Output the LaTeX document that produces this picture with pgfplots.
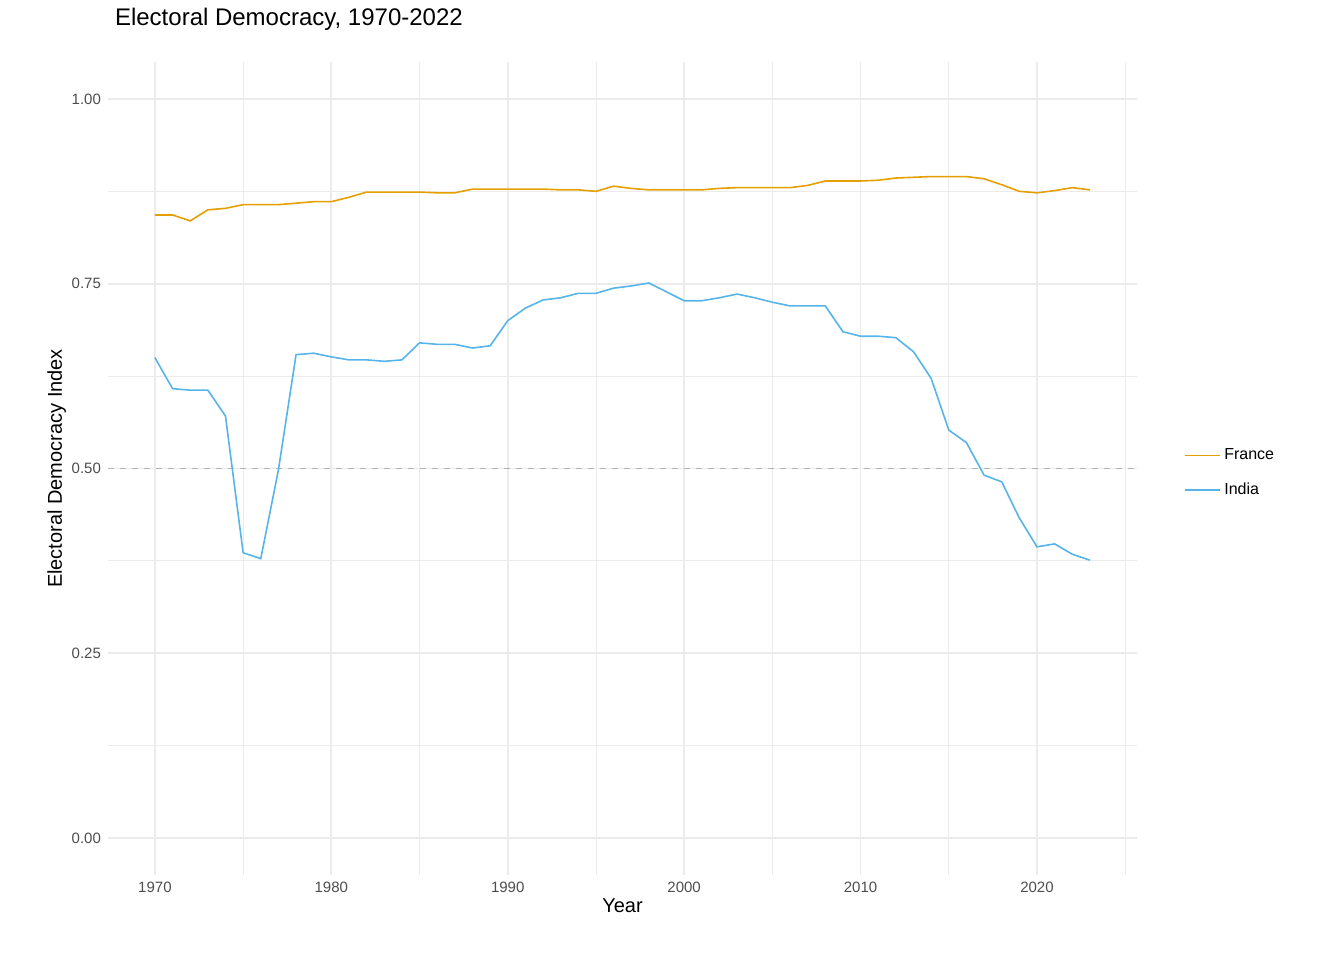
\documentclass[border=0pt]{standalone}
\usepackage{pgfplots}
\pgfplotsset{compat=1.18}
\usepackage{fontspec}
\setmainfont{Liberation Sans}
\definecolor{frc}{HTML}{E69F00}
\definecolor{inc}{HTML}{56B4E9}
\definecolor{gridc}{HTML}{EBEBEB}
\definecolor{tickc}{HTML}{4D4D4D}
\begin{document}
\begin{tikzpicture}[x=1pt,y=1pt]
\path (0,0) rectangle (672,480);
\begin{axis}[at={(54pt,42.5pt)}, anchor=south west, scale only axis,
 width=514.5pt, height=406.5pt,
 xmin=1967.34, xmax=2025.67, ymin=-0.05, ymax=1.05,
 axis line style={draw=none}, tick style={draw=none},
 xtick={1970,1980,...,2020}, minor xtick={1975,1985,...,2025},
 ytick={0,0.25,0.5,0.75,1}, minor ytick={0.125,0.375,0.625,0.875},
 yticklabel style={/pgf/number format/.cd,fixed,fixed zerofill,precision=2},
 /pgf/number format/assume math mode=true,
 xticklabel style={/pgf/number format/1000 sep={}},
 ticklabel style={font=\fontsize{7.5}{9}\selectfont, text=tickc},
 grid=both, major grid style={gridc, line width=0.9pt}, minor grid style={gridc, line width=0.45pt},
 xlabel={Year}, ylabel={Electoral Democracy Index},
 label style={font=\fontsize{10}{12}\selectfont},
 xlabel style={yshift=4pt}, ylabel style={yshift=-4pt},
 title={Electoral Democracy, 1970-2022},
 title style={font=\fontsize{12}{14}\selectfont, at={(0,1)}, anchor=south west, xshift=0pt, yshift=6pt},
 legend style={draw=none, fill=none, at={(1.04,0.535)}, anchor=north west, font=\fontsize{8}{10}\selectfont, row sep=6pt},
 legend cell align=left,
 legend image post style={line width=0.8pt},
]
\addplot[gray!60, dashed, line width=0.8pt, forget plot] coordinates {(1966,0.5) (2027,0.5)};
\addplot[frc, line width=0.8pt] coordinates {
(1970,0.843)(1971,0.843)(1972,0.835)(1973,0.850)(1974,0.852)(1975,0.857)(1976,0.857)(1977,0.857)(1978,0.859)(1979,0.861)(1980,0.861)(1981,0.867)(1982,0.874)(1983,0.874)(1984,0.874)(1985,0.874)(1986,0.873)(1987,0.873)(1988,0.878)(1989,0.878)(1990,0.878)(1991,0.878)(1992,0.878)(1993,0.877)(1994,0.877)(1995,0.875)(1996,0.882)(1997,0.879)(1998,0.877)(1999,0.877)(2000,0.877)(2001,0.877)(2002,0.879)(2003,0.880)(2004,0.880)(2005,0.880)(2006,0.880)(2007,0.883)(2008,0.889)(2009,0.889)(2010,0.889)(2011,0.890)(2012,0.893)(2013,0.894)(2014,0.895)(2015,0.895)(2016,0.895)(2017,0.892)(2018,0.884)(2019,0.875)(2020,0.873)(2021,0.876)(2022,0.880)(2023,0.877)};
\addlegendentry{France}
\addplot[inc, line width=0.8pt] coordinates {
(1970,0.650)(1971,0.608)(1972,0.606)(1973,0.606)(1974,0.571)(1975,0.386)(1976,0.378)(1977,0.498)(1978,0.654)(1979,0.656)(1980,0.651)(1981,0.647)(1982,0.647)(1983,0.645)(1984,0.647)(1985,0.670)(1986,0.668)(1987,0.668)(1988,0.663)(1989,0.666)(1990,0.700)(1991,0.717)(1992,0.728)(1993,0.731)(1994,0.737)(1995,0.737)(1996,0.744)(1997,0.747)(1998,0.751)(1999,0.739)(2000,0.727)(2001,0.727)(2002,0.731)(2003,0.736)(2004,0.731)(2005,0.725)(2006,0.720)(2007,0.720)(2008,0.720)(2009,0.685)(2010,0.679)(2011,0.679)(2012,0.677)(2013,0.658)(2014,0.622)(2015,0.552)(2016,0.535)(2017,0.491)(2018,0.482)(2019,0.433)(2020,0.394)(2021,0.398)(2022,0.384)(2023,0.376)};
\addlegendentry{India}
\node[anchor=west, font=\fontsize{10}{12}\selectfont] at (rel axis cs:1.044,0.563) {Country};
\end{axis}
\end{tikzpicture}
\end{document}
